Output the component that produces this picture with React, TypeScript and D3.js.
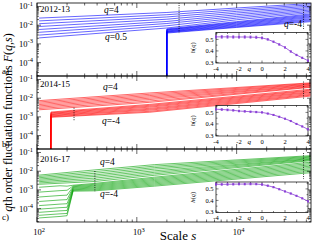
import React from "react";
import * as d3 from "d3";

// q order of every fluctuation-function line (top to bottom)
const qValues = [4, 3.5, 3, 2.5, 2, 1.5, 1, 0.5, 0, -0.5, -1, -1.5, -2, -2.5, -3, -3.5, -4];

// ---- panel a) 2012-13 : log10 F(q,s) at the scales sA (null = no point)
const sA = [105, 1990, 2000, 10000, 55000];
const logFA: (number | null)[][] = [
  [-1.62, null, -1.32, -1.08, -0.84],
  [-1.77, null, -1.44, -1.17, -0.91],
  [-1.92, null, -1.56, -1.26, -0.98],
  [-2.07, null, -1.68, -1.35, -1.05],
  [-2.23, null, -1.80, -1.44, -1.12],
  [-2.38, null, -1.91, -1.53, -1.19],
  [-2.53, null, -2.03, -1.62, -1.26],
  [-2.68, null, -2.15, -1.71, -1.33],
  [null, -7, -2.20, -1.81, -1.40],
  [null, -7, -2.23, -1.85, -1.45],
  [null, -7, -2.25, -1.89, -1.50],
  [null, -7, -2.28, -1.93, -1.55],
  [null, -7, -2.31, -1.97, -1.60],
  [null, -7, -2.34, -2.01, -1.66],
  [null, -7, -2.36, -2.05, -1.71],
  [null, -7, -2.39, -2.09, -1.76],
  [null, -7, -2.42, -2.12, -1.81],
];

// ---- panel b) 2014-15
const sB = [105, 137, 138, 1350, 55000];
const logFB: (number | null)[][] = [
  [-2.13, null, null, -1.72, -1.18],
  [-2.20, null, null, -1.79, -1.21],
  [-2.27, null, null, -1.86, -1.25],
  [-2.34, null, null, -1.93, -1.28],
  [-2.41, null, null, -2.00, -1.32],
  [-2.48, null, null, -2.07, -1.35],
  [-2.55, null, null, -2.15, -1.39],
  [-2.62, null, null, -2.22, -1.42],
  [null, -7, -2.74, -2.33, -1.52],
  [null, -7, -2.78, -2.38, -1.57],
  [null, -7, -2.81, -2.43, -1.61],
  [null, -7, -2.85, -2.48, -1.66],
  [null, -7, -2.88, -2.54, -1.70],
  [null, -7, -2.92, -2.59, -1.75],
  [null, -7, -2.95, -2.64, -1.80],
  [null, -7, -2.99, -2.70, -1.84],
  [null, -7, -3.02, -2.75, -1.89],
];

// ---- panel c) 2016-17
const sC = [105, 170, 200, 230, 380, 1500, 55000];
const logFC: (number | null)[][] = [
  [-2.21, null, null, null, -1.93, -1.65, -1.17],
  [-2.28, null, null, null, -2.02, -1.73, -1.21],
  [-2.35, null, null, null, -2.11, -1.81, -1.25],
  [-2.42, null, null, null, -2.20, -1.89, -1.29],
  [-2.49, null, null, null, -2.28, -1.98, -1.33],
  [-2.56, null, null, null, -2.37, -2.06, -1.36],
  [-2.63, null, null, null, -2.46, -2.14, -1.40],
  [-2.70, null, null, null, -2.55, -2.22, -1.44],
  [-2.86, -2.78, -2.80, -2.75, -2.65, -2.32, -1.52],
  [-3.12, -3.04, -3.02, -2.79, -2.70, -2.38, -1.59],
  [-3.38, -3.30, -3.28, -2.83, -2.75, -2.44, -1.66],
  [-3.62, -3.54, -3.52, -2.87, -2.80, -2.50, -1.73],
  [-3.84, -3.76, -3.74, -2.91, -2.85, -2.56, -1.80],
  [-4.03, -3.95, -3.93, -2.95, -2.90, -2.62, -1.87],
  [-4.20, -4.12, -4.10, -2.99, -2.95, -2.68, -1.94],
  [-4.36, -4.28, -4.26, -3.03, -3.00, -2.74, -2.01],
  [-4.50, -4.42, -4.38, -3.07, -3.05, -2.80, -2.08],
];

// fitting-range markers: [s, log10 F top, log10 F bottom]
const fitA = [[2650, -0.8, -2.42], [46800, -0.8, -2.2]];
const fitB = [[235, -2.51, -3.23], [46800, -1.11, -2.07]];
const fitC = [[380, -1.99, -3.11], [46800, -1.03, -2.42]];

// ---- insets: generalized Hurst exponent h(q)
const insetQ = [-4, -3.5, -3, -2.5, -2, -1.5, -1, -0.5, 0, 0.5, 1, 1.5, 2, 2.5, 3, 3.5, 4];
const hA = [0.522, 0.522, 0.522, 0.521, 0.521, 0.521, 0.52, 0.518, 0.513, 0.5, 0.48, 0.456, 0.43, 0.395, 0.365, 0.34, 0.315];
const hB = [0.528, 0.525, 0.522, 0.518, 0.512, 0.509, 0.506, 0.503, 0.5, 0.49, 0.478, 0.462, 0.445, 0.425, 0.4, 0.378, 0.353];
const hC = [0.54, 0.54, 0.54, 0.541, 0.542, 0.542, 0.543, 0.542, 0.538, 0.528, 0.515, 0.497, 0.478, 0.46, 0.44, 0.418, 0.392];
const errA = [0.012, 0.012, 0.012, 0.011, 0.011, 0.011, 0.01, 0.01, 0.009, 0.007, 0.006, 0.006, 0.006, 0.006, 0.006, 0.006, 0.007];
const errB = [0.008, 0.008, 0.008, 0.007, 0.007, 0.007, 0.006, 0.006, 0.006, 0.005, 0.005, 0.005, 0.005, 0.005, 0.005, 0.005, 0.006];
const errC = [0.009, 0.009, 0.009, 0.008, 0.008, 0.008, 0.008, 0.007, 0.007, 0.006, 0.005, 0.005, 0.005, 0.005, 0.005, 0.005, 0.006];

const yearLabels = ["2012-13", "2014-15", "2016-17"];
const panelLetters = ["a)", "b)", "c)"];
const yTickExps = [-1, -2, -3, -4];
const xTickExps = [2, 3, 4];
const insetYTicks = [0.3, 0.4, 0.5];
const insetXTicks = [-4, -2, 0, 2, 4];

const FONT = "'Liberation Serif','Times New Roman',serif";

export default function App() {
  const W = 314, H = 242;
  const L = 37, R = 311, T0 = 3, PH = 73;
  const x = d3.scaleLog().domain([100, Math.pow(10, 4.745)]).range([L, R]);

  const panels = [
    { s: sA, F: logFA, fit: fitA, h: hA, err: errA, color: "#0000ff", insetTop: 32.5, yearY: 12, qLabels: [
      { t: "4", x: 104, y: 13 }, { t: "0.5", x: 105, y: 40 }, { t: "-4", x: 284, y: 27 }] },
    { s: sB, F: logFB, fit: fitB, h: hB, err: errB, color: "#ff0000", insetTop: 105.5, yearY: 86.5, qLabels: [
      { t: "4", x: 103, y: 90 }, { t: "-4", x: 102, y: 124 }] },
    { s: sC, F: logFC, fit: fitC, h: hC, err: errC, color: "#00a000", insetTop: 182, yearY: 161.5, qLabels: [
      { t: "4", x: 100, y: 165 }, { t: "-4", x: 100, y: 197 }] },
  ];

  const xTicks = x.ticks();

  return (
    <svg width={W} height={H} style={{ position: "absolute", left: 0, top: 0, background: "#fff" }} fontFamily={FONT}>
      <defs>
        {panels.map((p, i) => (
          <clipPath id={`clip${i}`} key={i}>
            <rect x={L} y={T0 + i * PH} width={R - L} height={PH} />
          </clipPath>
        ))}
      </defs>
      {panels.map((p, i) => {
        const top = T0 + i * PH;
        const bot = top + PH;
        const y = d3.scaleLog().domain([Math.pow(10, -4.717), Math.pow(10, -0.813)]).range([bot, top]);
        const line = d3.line<[number, number]>().x(d => x(d[0])).y(d => y(Math.pow(10, d[1])));
        const yTicks = y.ticks();
        const iL = 216, iR = 308, iT = p.insetTop, iB = p.insetTop + 30.5;
        const ix = d3.scaleLinear().domain([-4, 4]).range([iL, iR]);
        const iy = d3.scaleLinear().domain([0.295, 0.56]).range([iB, iT]);
        const hLine = d3.line<number>().x((d, k) => ix(insetQ[k])).y(d => iy(d));
        return (
          <g key={i}>
            <g clipPath={`url(#clip${i})`}>
              {p.F.map((row, k) => {
                const pts: [number, number][] = [];
                row.forEach((v, j) => { if (v !== null) pts.push([p.s[j], v]); });
                return <path key={k} d={line(pts) || ""} fill="none" stroke={p.color} strokeWidth={0.6} />;
              })}
              {p.fit.map((f, k) => (
                <line key={k} x1={x(f[0])} x2={x(f[0])} y1={y(Math.pow(10, f[1]))} y2={y(Math.pow(10, f[2]))}
                  stroke="#000" strokeWidth={0.8} strokeDasharray="1,1.3" />
              ))}
            </g>
            <rect x={L} y={top} width={R - L} height={PH} fill="none" stroke="#000" strokeWidth={0.8} />
            {yTicks.map((t, k) => {
              const major = Math.abs(Math.log10(t) - Math.round(Math.log10(t))) < 1e-6;
              const len = major ? 4 : 2;
              const yy = y(t);
              return (
                <g key={k}>
                  <line x1={L} x2={L + len} y1={yy} y2={yy} stroke="#000" strokeWidth={0.6} />
                  <line x1={R} x2={R - len} y1={yy} y2={yy} stroke="#000" strokeWidth={0.6} />
                </g>
              );
            })}
            {xTicks.map((t, k) => {
              const major = Math.abs(Math.log10(t) - Math.round(Math.log10(t))) < 1e-6;
              const len = major ? 5 : 2.5;
              const xx = x(t);
              return (
                <g key={k}>
                  <line x1={xx} x2={xx} y1={bot} y2={bot - len} stroke="#000" strokeWidth={0.6} />
                  <line x1={xx} x2={xx} y1={top} y2={top + len} stroke="#000" strokeWidth={0.6} />
                </g>
              );
            })}
            {yTickExps.map((e) => (
              <text key={e} x={33} y={y(Math.pow(10, e)) + 3} textAnchor="end" fontSize={8.5}>
                10<tspan dy={-3.5} fontSize={6.5}>{String(e)}</tspan>
              </text>
            ))}
            <text x={2} y={bot - 2} fontSize={9}>{panelLetters[i]}</text>
            <text x={40} y={p.yearY} fontSize={9}>{yearLabels[i]}</text>
            {p.qLabels.map((ql, k) => (
              <text key={k} x={ql.x} y={ql.y} fontSize={9.5}>
                <tspan fontStyle="italic">q</tspan>={ql.t}
              </text>
            ))}
            <rect x={iL} y={iT} width={iR - iL} height={iB - iT} fill="#fff" stroke="#000" strokeWidth={0.7} />
            {d3.range(-4, 4.01, 1).map((t) => {
              const major = t % 2 === 0;
              const len = major ? 2.5 : 1.5;
              return (
                <g key={t}>
                  <line x1={ix(t)} x2={ix(t)} y1={iB} y2={iB - len} stroke="#000" strokeWidth={0.5} />
                  <line x1={ix(t)} x2={ix(t)} y1={iT} y2={iT + len} stroke="#000" strokeWidth={0.5} />
                </g>
              );
            })}
            {[0.3, 0.35, 0.4, 0.45, 0.5, 0.55].map((t) => {
              const major = Math.abs(t * 10 - Math.round(t * 10)) < 1e-6;
              const len = major ? 2.5 : 1.5;
              return (
                <g key={t}>
                  <line x1={iL} x2={iL + len} y1={iy(t)} y2={iy(t)} stroke="#000" strokeWidth={0.5} />
                  <line x1={iR} x2={iR - len} y1={iy(t)} y2={iy(t)} stroke="#000" strokeWidth={0.5} />
                </g>
              );
            })}
            {insetYTicks.map((t) => (
              <text key={t} x={213.5} y={iy(t) + 2.2} textAnchor="end" fontSize={6.5}>{t.toFixed(1)}</text>
            ))}
            {insetXTicks.map((t) => (
              <text key={t} x={ix(t)} y={iB + 7.5} textAnchor="middle" fontSize={6.5}>{String(t)}</text>
            ))}
            <text x={ix(-1.1)} y={iB + 7.5} textAnchor="middle" fontSize={7} fontStyle="italic">q</text>
            <text transform={`translate(${iL - 21},${(iT + iB) / 2}) rotate(-90)`} textAnchor="middle" fontSize={6.5}>
              <tspan fontStyle="italic">h</tspan>(<tspan fontStyle="italic">q</tspan>)
            </text>
            <path d={hLine(p.h) || ""} fill="none" stroke="#8a3fd6" strokeWidth={0.8} />
            {p.h.map((v, k) => (
              <g key={k} stroke="#8a3fd6" strokeWidth={0.6}>
                <line x1={ix(insetQ[k])} x2={ix(insetQ[k])} y1={iy(v - p.err[k])} y2={iy(v + p.err[k])} />
                <line x1={ix(insetQ[k]) - 1} x2={ix(insetQ[k]) + 1} y1={iy(v - p.err[k])} y2={iy(v - p.err[k])} />
                <line x1={ix(insetQ[k]) - 1} x2={ix(insetQ[k]) + 1} y1={iy(v + p.err[k])} y2={iy(v + p.err[k])} />
                <rect x={ix(insetQ[k]) - 0.9} y={iy(v) - 0.9} width={1.8} height={1.8} fill="#8a3fd6" stroke="none" />
              </g>
            ))}
          </g>
        );
      })}
      {xTickExps.map((e) => (
        <text key={e} x={x(Math.pow(10, e)) + 2} y={235} textAnchor="middle" fontSize={8.5}>
          10<tspan dy={-3.5} fontSize={6.5}>{String(e)}</tspan>
        </text>
      ))}
      <text x={178} y={240} textAnchor="middle" fontSize={13}>
        Scale <tspan fontStyle="italic">s</tspan>
      </text>
      <text transform="translate(11.5,122.5) rotate(-90)" textAnchor="middle" fontSize={12}>
        <tspan fontStyle="italic">q</tspan>th order fluctuation functions <tspan fontStyle="italic">F</tspan>(<tspan fontStyle="italic">q</tspan>,<tspan fontStyle="italic">s</tspan>)
      </text>
    </svg>
  );
}
